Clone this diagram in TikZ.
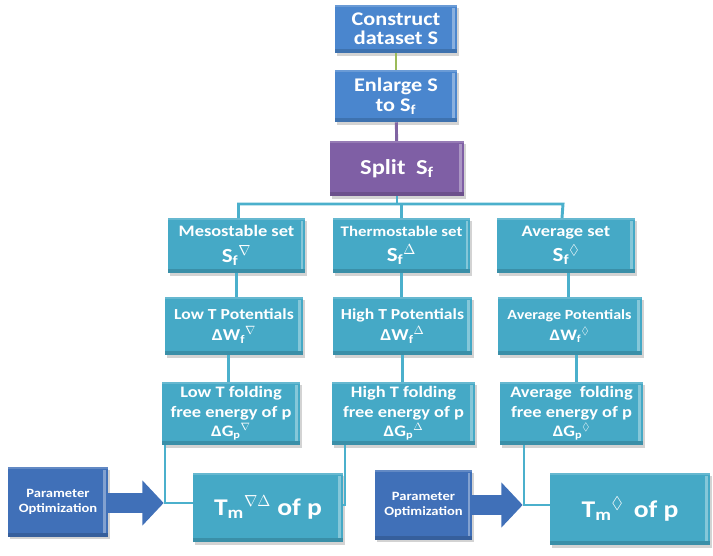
\documentclass[tikz,border=0pt]{standalone}
\usepackage{fontspec}
\usepackage{amssymb}
\setmainfont{Carlito}[FakeStretch=1.15]
\usetikzlibrary{shadows,arrows.meta}
\definecolor{tealc}{HTML}{45A9C6}
\definecolor{tealline}{HTML}{4BB0CC}
\definecolor{topblue}{HTML}{4A86CE}
\definecolor{splitpurple}{HTML}{7F5FA5}
\definecolor{parblue}{HTML}{4070B8}
\definecolor{greenline}{HTML}{9BBB59}
\definecolor{purpleline}{HTML}{8064A2}
\tikzset{
  bevel/.style={path picture={
    \fill[white,opacity=0.35] ([xshift=-3.5pt,yshift=-2pt]path picture bounding box.north east) rectangle ([xshift=-1.5pt,yshift=3pt]path picture bounding box.south east);
    \fill[white,opacity=0.18] (path picture bounding box.north west) rectangle ([yshift=-1.5pt]path picture bounding box.north east);
    \fill[black,opacity=0.15] (path picture bounding box.south west) rectangle ([yshift=3pt]path picture bounding box.south east);
  }},
  basebox/.style={draw=none, text=white, align=center, inner sep=1.5pt,
    font=\bfseries, bevel,
    drop shadow={opacity=0.35, shadow xshift=1.5pt, shadow yshift=-2pt}},
  tbox/.style={basebox, fill=tealc},
  bbox/.style={basebox, fill=topblue},
  pbox/.style={basebox, fill=splitpurple},
  parbox/.style={basebox, fill=parblue, font=\bfseries\fontsize{9.5}{11.5}\selectfont},
  conn/.style={draw=tealline, line width=2.2pt},
  parrow/.style={draw=parblue, line width=15pt, -{Triangle[length=16pt,width=33pt]}},
}
\begin{document}
\begin{tikzpicture}[x=0.75pt,y=-0.75pt]
\useasboundingbox (0,0) rectangle (713,556);

% top chain
\node[bbox, minimum width=91.5pt, minimum height=36pt, font=\bfseries\fontsize{14.5}{14.5}\selectfont] (construct) at (396,29) {Construct\\dataset S};
\node[bbox, minimum width=91.5pt, minimum height=39pt, font=\bfseries\fontsize{14.5}{15}\selectfont] (enlarge) at (396,96) {Enlarge S\\to S\textsubscript{f}};
\node[pbox, minimum width=100.5pt, minimum height=41pt, font=\bfseries\fontsize{16}{16}\selectfont] (split) at (397,168.5) {Split\enspace S\textsubscript{f}};

% row 1
\node[tbox, minimum width=103pt, minimum height=41pt, font=\bfseries\fontsize{12}{19}\selectfont] (meso) at (236.5,245.5) {Mesostable set\\{\fontsize{15}{19}\selectfont S\textsubscript{f}\textsuperscript{$\nabla$}}};
\node[tbox, minimum width=103pt, minimum height=41pt, font=\bfseries\fontsize{11}{19}\selectfont] (thermo) at (401.5,245.5) {Thermostable set\\{\fontsize{15}{19}\selectfont S\textsubscript{f}\textsuperscript{$\Delta$}}};
\node[tbox, minimum width=103.5pt, minimum height=41pt, font=\bfseries\fontsize{12}{19}\selectfont] (avgset) at (566,245.5) {Average set\\{\fontsize{15}{19}\selectfont S\textsubscript{f}\textsuperscript{$\lozenge$}}};

% row 2
\node[tbox, minimum width=103.5pt, minimum height=43.5pt, font=\bfseries\fontsize{11.5}{16}\selectfont] (lowpot) at (234,326) {Low T Potentials\\{\fontsize{12.5}{16}\selectfont ΔW\textsubscript{f}\textsuperscript{$\nabla$}}};
\node[tbox, minimum width=104pt, minimum height=43.5pt, font=\bfseries\fontsize{11.5}{16}\selectfont] (highpot) at (402.5,326) {High T Potentials\\{\fontsize{12.5}{16}\selectfont ΔW\textsubscript{f}\textsuperscript{$\Delta$}}};
\node[tbox, minimum width=108pt, minimum height=43.5pt, font=\bfseries\fontsize{10.5}{16}\selectfont] (avgpot) at (569.5,326) {Average Potentials\\{\fontsize{12}{16}\selectfont ΔW\textsubscript{f}\textsuperscript{$\lozenge$}}};

% row 3
\node[tbox, minimum width=103.5pt, minimum height=47pt, font=\bfseries\fontsize{12}{14.5}\selectfont] (lowfold) at (231,413.5) {Low T folding\\free energy of p\\ΔG\textsubscript{p}\textsuperscript{$\nabla$}};
\node[tbox, minimum width=107pt, minimum height=47pt, font=\bfseries\fontsize{12}{14.5}\selectfont] (highfold) at (403.5,413.5) {High T folding\\free energy of p\\ΔG\textsubscript{p}\textsuperscript{$\Delta$}};
\node[tbox, minimum width=107pt, minimum height=47pt, font=\bfseries\fontsize{12}{14.5}\selectfont] (avgfold) at (571.5,413.5) {Average\enspace folding\\free energy of p\\ΔG\textsubscript{p}\textsuperscript{$\lozenge$}};

% bottom
\node[tbox, minimum width=112.5pt, minimum height=52pt, font=\bfseries\fontsize{18}{18}\selectfont] (tm1) at (268,507.5) {T\textsubscript{m}\textsuperscript{$\nabla\Delta$} of p};
\node[tbox, minimum width=120pt, minimum height=54pt, font=\bfseries\fontsize{18}{18}\selectfont] (tm2) at (630,509) {T\textsubscript{m}\textsuperscript{$\lozenge$}\, of p};
\node[parbox, minimum width=75pt, minimum height=52pt] (p1) at (58,502) {Parameter\\Optimization};
\node[parbox, minimum width=73pt, minimum height=52pt] (p2) at (423.5,505) {Parameter\\Optimization};

% connectors
\coordinate (busL) at (238.5,204);
\coordinate (busR) at (563,204);
\coordinate (c1) at (165,503);
\coordinate (c2) at (524,505);
\coordinate (c3) at (345,505);

\draw[draw=greenline, line width=2.2pt] (construct) -- (enlarge);
\draw[draw=purpleline, line width=2.2pt] (enlarge) -- (split);
\draw[conn] (split.south) -- (split.south |- busL);
\draw[conn] ([xshift=1.5pt]meso.north) -- (busL) -- (busR) -- ([xshift=-3pt]avgset.north);
\draw[conn] (thermo.north) -- (thermo.north |- busL);
\draw[conn] (meso.south) -- (meso.south |- lowpot.north);
\draw[conn] ([xshift=-4pt]lowpot.south) -- ([xshift=-4pt]lowpot.south |- lowfold.north);
\draw[conn] (thermo.south) -- (thermo.south |- highpot.north);
\draw[conn] (highpot.south) -- (highpot.south |- highfold.north);
\draw[conn] ([xshift=2pt]avgset.south) -- ([xshift=2pt]avgset.south |- avgpot.north);
\draw[conn] ([xshift=5pt]avgpot.south) -- ([xshift=5pt]avgpot.south |- avgfold.north);

\draw[conn] (lowfold.south -| c1) -- (c1) -- (tm1.west |- c1);
\draw[conn] (highfold.south -| c3) -- (c3) -- (tm1.east |- c3);
\draw[conn] (avgfold.south -| c2) -- (c2) -- (tm2.west |- c2);

\draw[parrow] (p1.east |- c1) -- ([xshift=-1pt]c1);
\draw[parrow] (p2.east |- c2) -- ([xshift=-1pt]c2);
\end{tikzpicture}
\end{document}
